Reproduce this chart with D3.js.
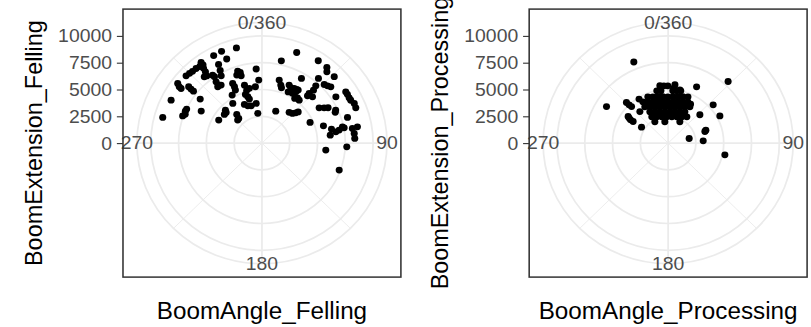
<!DOCTYPE html>
<html>
<head>
<meta charset="utf-8">
<script src="https://cdn.jsdelivr.net/npm/d3@7"></script>
<style>
body { margin: 0; background: #fff; }
text { font-family: "Liberation Sans", Arial, sans-serif; }
</style>
</head>
<body>
<svg id="chart" width="811" height="327"></svg>
<script>
// ---- data ----
var fellingAngle = [345.5,337,332,338,324,324,322,323,322.6,321.6,320,319.6,317,315,312.6,332,331,325,325.4,329.7,
  342,343.5,340.4,343.4,355.7,357.2,324.2,324.8,322.9,325.8,334.7,334.8,334.2,343.8,344.5,347.5,353.6,306.3,305.2,305,
  308.6,308.3,308.2,329.1,341.9,344.6,343.6,296.1,306.5,324.7,336.4,339.9,344.4,352,352.3,295.1,293.4,298.7,313.1,308.4,
  311.6,319.7,317.8,289.6,291.2,285,298.9,314.5,
  20.3,12.8,33.4,39.6,41.3,46.4,40.1,30.5,14.8,17.4,18.8,24.3,26.7,29.6,32.1,26.3,30.6,32.5,33.4,42.2,
  43.2,45.7,47.8,49.7,42.5,42.9,46.5,37.1,39.9,35.3,57,57.6,59.4,61.7,63.4,66,68.7,22.6,40.5,44.8,
  47.1,48.2,57.4,59.5,61,65.1,66.5,72.7,66,73.8,78.2,81,80.1,78.2,79.1,83.1,80.5,80,83.8,87,92.6,96.5,109.9];
var fellingExtension = [9170,9300,9250,8460,9310,9020,9070,8730,8370,8000,8070,9140,9160,9210,9270,8310,7750,7740,7520,7270,
  7060,6880,6740,6550,6930,5890,7050,6620,6590,6540,6160,5810,5490,5630,5120,5230,5290,9400,9100,8880,
  8430,8130,7840,5220,4780,4260,4510,9100,6910,4540,3940,3700,3610,3740,2800,7480,7510,6230,4500,4310,
  4310,3500,3110,7570,7410,9240,4440,3060,
  9010,7870,9200,9160,8850,8980,7890,7000,6080,5670,5450,5940,5780,5870,5900,5330,5390,5670,5920,7210,
  6770,7830,7960,8120,6290,6020,6270,5300,5220,5110,7930,8930,8930,8910,8930,9090,9060,3230,3770,3900,
  4150,4370,6110,6490,6800,7310,7190,8060,4740,5760,6390,6730,7050,7400,7530,6190,8250,8720,8350,8360,7640,5780,7390];

var processingAngle = [337.8,43.2,301.6,26,6.4,5.7,12,327.5,315.3,315.5,316,48.6,61.4,47.2,29,304.6,302.7,302.6,303.6,301.9,
  71.9,70.4,86.1,77.2,102.1,319.2,
  352.1,355.9,359.7,348.2,352.4,4.9,9.1,13.1,
  337.1,342.3,347.9,353.7,359.6,5.6,11.4,17,22.4,
  329.4,334.6,340.4,346.5,353,359.6,6.3,12.7,18.9,24.7,
  328.2,334,340.6,347.5,355,2.7,10.1,17.3,23.9,30,
  330.6,337.8,345.6,354.2,3.1,11.7,19.8,27.3,
  329.1,337.5,347,357.2,7.7,17.7,26.7,34.5,
  329,351.5,27.9];
var processingExtension = [8170,7880,6510,5840,5480,5160,5080,4870,5330,5010,4740,5400,5300,3890,4160,4370,4020,3740,4210,2820,
  3480,3600,3160,1940,5220,3890,
  5400,5360,5346,4980,4920,4900,4940,5010,
  4690,4530,4420,4350,4320,4340,4410,4520,4670,
  4470,4260,4090,3970,3885,3853,3878,3955,4070,4240,
  3980,3770,3590,3474,3401,3391,3444,3550,3710,3910,
  3350,3160,3010,2936,2925,2986,3100,3280,
  2860,2650,2523,2457,2478,2570,2750,2970,
  2320,2011,2250];

var rBreaks = [0, 2500, 5000, 7500, 10000];
var thetaMajor = [0, 90, 180, 270];
var thetaMinor = [45, 135, 225, 315];
var thetaLabels = ["0/360", "90", "180", "270"];

// ---- layout ----
var stretch = 1.037;   // picture is a bit wider than tall
var S = 268;           // panel size (square)
var panelTop = 9.1;
var svg = d3.select("#chart");
var root = svg.append("g").attr("transform", "scale(" + stretch + ",1)");

function polarPanel(x0, angles, exts, xTitle, yTitle, yTitleX) {
  var cx = x0 + S / 2, cy = panelTop + S / 2;
  var r = d3.scaleLinear().domain([0, 10000]).range([0, 0.4 * S]);
  var theta = d3.scaleLinear().domain([0, 360]).range([0, 2 * Math.PI]);
  var g = root.append("g");

  g.append("rect").attr("x", x0).attr("y", panelTop).attr("width", S).attr("height", S).attr("fill", "#fff");

  // grid
  g.selectAll(".minor").data(thetaMinor).enter().append("line")
    .attr("x1", cx).attr("y1", cy)
    .attr("x2", function(d){ return cx + 0.45 * S * Math.sin(theta(d)); })
    .attr("y2", function(d){ return cy - 0.45 * S * Math.cos(theta(d)); })
    .attr("stroke", "#EBEBEB").attr("stroke-width", 0.9);
  g.selectAll(".major").data(thetaMajor).enter().append("line")
    .attr("x1", cx).attr("y1", cy)
    .attr("x2", function(d){ return cx + 0.45 * S * Math.sin(theta(d)); })
    .attr("y2", function(d){ return cy - 0.45 * S * Math.cos(theta(d)); })
    .attr("stroke", "#EBEBEB").attr("stroke-width", 1.7);
  var rings = rBreaks.map(function(d){ return r(d); }).concat([0.45 * S]);
  g.selectAll(".ring").data(rings).enter().append("circle")
    .attr("cx", cx).attr("cy", cy).attr("r", function(d){ return d; })
    .attr("fill", "none").attr("stroke", "#EBEBEB").attr("stroke-width", 1.7);

  // points
  g.selectAll(".pt").data(angles).enter().append("circle")
    .attr("cx", function(d, i){ return cx + r(exts[i]) * Math.sin(theta(d)); })
    .attr("cy", function(d, i){ return cy - r(exts[i]) * Math.cos(theta(d)); })
    .attr("r", 3.4).attr("fill", "#000");

  // theta labels
  g.selectAll(".tl").data(thetaMajor).enter().append("text")
    .attr("x", function(d){ return cx + 0.45 * S * Math.sin(theta(d)); })
    .attr("y", function(d){ return cy - 0.45 * S * Math.cos(theta(d)); })
    .attr("text-anchor", "middle").attr("dominant-baseline", "central")
    .attr("font-size", 18.7).attr("fill", "#4D4D4D")
    .text(function(d, i){ return thetaLabels[i]; });

  // border
  g.append("rect").attr("x", x0).attr("y", panelTop).attr("width", S).attr("height", S)
    .attr("fill", "none").attr("stroke", "#333333").attr("stroke-width", 1.5);

  // radius axis on the left
  var yScale = d3.scaleLinear().domain([0, 10000]).range([cy, cy - 0.4 * S]);
  var ax = g.append("g").attr("transform", "translate(" + x0 + ",0)")
    .call(d3.axisLeft(yScale).tickValues(rBreaks).tickSize(5.9).tickPadding(4.7).tickFormat(d3.format("d")));
  ax.select(".domain").remove();
  ax.selectAll(".tick line").attr("stroke", "#333333").attr("stroke-width", 1.1);
  ax.selectAll(".tick text").attr("font-size", 18.7).attr("fill", "#4D4D4D")
    .attr("font-family", "'Liberation Sans', Arial, sans-serif");

  // titles
  g.append("text").attr("x", cx).attr("y", 319).attr("text-anchor", "middle")
    .attr("font-size", 23.4).attr("fill", "#000").text(xTitle);
  g.append("text").attr("transform", "translate(" + yTitleX + "," + cy + ") rotate(-90)")
    .attr("text-anchor", "middle").attr("dominant-baseline", "central")
    .attr("font-size", 23.4).attr("fill", "#000").text(yTitle);
}

polarPanel(118.6, fellingAngle, fellingExtension, "BoomAngle_Felling", "BoomExtension_Felling", 31.8);
polarPanel(510.3, processingAngle, processingExtension, "BoomAngle_Processing", "BoomExtension_Processing", 423.4);
</script>
</body>
</html>
